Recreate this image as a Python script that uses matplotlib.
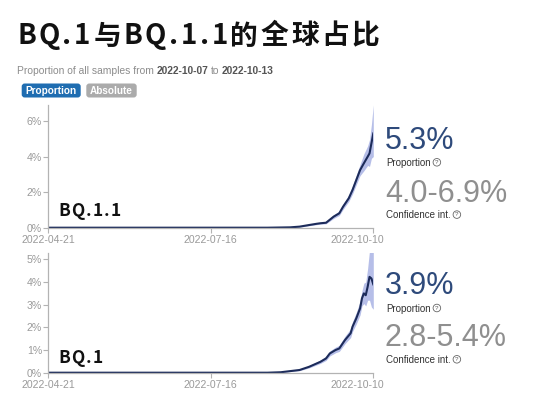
import matplotlib
matplotlib.use('Agg')
import matplotlib.pyplot as plt
import pandas as pd
from matplotlib.patches import FancyBboxPatch
from matplotlib.transforms import ScaledTranslation

# ---------------- data ----------------
dates_bq11 = ["2022-04-21", "2022-08-15", "2022-08-27", "2022-09-01", "2022-09-06",
              "2022-09-10", "2022-09-12", "2022-09-15", "2022-09-17", "2022-09-19",
              "2022-09-22", "2022-09-24", "2022-09-27", "2022-09-29", "2022-10-01",
              "2022-10-03", "2022-10-05", "2022-10-07", "2022-10-08", "2022-10-09",
              "2022-10-10"]
bq11 = [0, 0, 0.02, 0.06, 0.15, 0.22, 0.25, 0.28, 0.45, 0.62, 0.81, 1.18, 1.65,
        2.12, 2.68, 3.24, 3.62, 3.99, 4.18, 4.74, 5.3]
bq11_lo = [0, 0, 0.0, 0.03, 0.11, 0.17, 0.2, 0.22, 0.37, 0.52, 0.69, 1.03, 1.47,
           1.9, 2.42, 2.93, 3.2, 3.5, 3.45, 3.9, 4.0]
bq11_hi = [0, 0, 0.04, 0.09, 0.19, 0.27, 0.3, 0.34, 0.54, 0.73, 0.94, 1.34, 1.84,
           2.36, 2.95, 3.56, 4.15, 4.6, 4.95, 5.8, 6.9]

dates_bq1 = ["2022-04-21", "2022-08-15", "2022-08-22", "2022-09-01", "2022-09-06",
             "2022-09-12", "2022-09-15", "2022-09-17", "2022-09-20", "2022-09-22",
             "2022-09-25", "2022-09-28", "2022-09-29", "2022-10-01", "2022-10-03",
             "2022-10-04", "2022-10-05", "2022-10-06", "2022-10-07", "2022-10-08",
             "2022-10-09", "2022-10-10"]
bq1 = [0, 0, 0.02, 0.12, 0.26, 0.48, 0.63, 0.85, 1.0, 1.07, 1.44, 1.74, 2.03, 2.4,
       2.84, 3.28, 3.5, 3.42, 3.79, 4.23, 4.16, 3.9]
bq1_lo = [0, 0, 0.01, 0.09, 0.21, 0.41, 0.54, 0.74, 0.88, 0.94, 1.28, 1.55, 1.82,
          2.15, 2.55, 2.95, 3.05, 2.95, 3.2, 3.2, 2.9, 2.8]
bq1_hi = [0, 0, 0.03, 0.15, 0.31, 0.56, 0.73, 0.96, 1.13, 1.21, 1.61, 1.94, 2.25,
          2.66, 3.15, 3.62, 3.95, 4.0, 4.6, 5.4, 5.4, 5.4]

xtick_dates = ["2022-04-21", "2022-07-16", "2022-10-10"]
yticks_bq11 = [0, 2, 4, 6]
yticks_bq1 = [0, 1, 2, 3, 4, 5]
ymax_bq11 = 6.9
ymax_bq1 = 5.27

title = "BQ.1与BQ.1.1的全球占比"
stat_bq11 = ("5.3%", "4.0-6.9%")
stat_bq1 = ("3.9%", "2.8-5.4%")

# ---------------- figure ----------------
W, H = 559, 400
fig = plt.figure(figsize=(W / 100, H / 100), dpi=100)
fig.patch.set_facecolor('white')

SANS = ['Liberation Sans', 'DejaVu Sans']
CJK = ['Noto Sans CJK SC', 'DejaVu Sans']

LINE_C = '#1c2b5a'
BAND_C = '#a9b3e4'
TICK_C = '#b3b3b3'
TLAB_C = '#9a9a9a'


def add_ax(l, t, r, b):
    ax = fig.add_axes([l / W, 1 - b / H, (r - l) / W, (b - t) / H])
    ax.patch.set_alpha(0)
    return ax


def style_ax(ax, yt, ymax):
    ax.set_xlim(pd.Timestamp(xtick_dates[0]), pd.Timestamp(xtick_dates[-1]))
    ax.set_ylim(0, ymax)
    for s in ['top', 'right']:
        ax.spines[s].set_visible(False)
    for s in ['left', 'bottom']:
        ax.spines[s].set_color(TICK_C)
        ax.spines[s].set_linewidth(0.9)
    ax.set_xticks([pd.Timestamp(d) for d in xtick_dates])
    ax.set_xticklabels(xtick_dates, fontfamily=SANS)
    ax.set_yticks(yt)
    ax.set_yticklabels([f"{v}%" for v in yt], fontfamily=SANS)
    ax.tick_params(axis='both', colors=TICK_C, labelcolor=TLAB_C, labelsize=7.6,
                   length=3.5, width=0.8)
    ax.tick_params(axis='x', pad=1.5)
    ax.tick_params(axis='y', pad=1.0)
    lbls = ax.get_xticklabels()
    lbls[-1].set_transform(lbls[-1].get_transform() +
                           ScaledTranslation(-0.16, 0, fig.dpi_scale_trans))


ax1 = add_ax(48.3, 105, 373.3, 227.7)
d1 = pd.to_datetime(dates_bq11)
ax1.fill_between(d1, bq11_lo, bq11_hi, color=BAND_C, alpha=0.85, lw=0)
ax1.plot(d1, bq11, color=LINE_C, lw=1.5)
style_ax(ax1, yticks_bq11, ymax_bq11)

ax2 = add_ax(48.3, 253.3, 373.3, 372.7)
d2 = pd.to_datetime(dates_bq1)
ax2.fill_between(d2, bq1_lo, bq1_hi, color=BAND_C, alpha=0.85, lw=0)
ax2.plot(d2, bq1, color=LINE_C, lw=1.5)
style_ax(ax2, yticks_bq1, ymax_bq1)

# overlay axes in pixel coords for texts
bg = fig.add_axes([0, 0, 1, 1])
bg.set_axis_off()
bg.set_xlim(0, W)
bg.set_ylim(H, 0)
bg.set_zorder(10)


def chain(x, y, pieces):
    prev = None
    for s, gap, kw, dy in pieces:
        if prev is None:
            prev = bg.text(x, y, s, va='baseline', ha='left', **kw)
        else:
            prev = bg.annotate(s, xy=(1, y), xycoords=(prev, 'data'),
                               xytext=(gap * 0.72, dy * 0.72), textcoords='offset points',
                               va='baseline', ha='left', **kw)
    return prev


# title with letter spacing
tkw = dict(fontsize=20, fontweight='bold', color='#111111', fontfamily=CJK)
chain(17, 44.5, [(ch, 2.6, tkw, 0) for ch in title])

# subtitle
reg = dict(fontsize=7.4, color='#8c8c8c', fontfamily=SANS)
bold = dict(fontsize=7.4, color='#555555', fontweight='bold', fontfamily=SANS)
chain(17, 74, [("Proportion of all samples from", 0, reg, 0),
               ("2022-10-07", 2.4, bold, 0),
               ("to", 2.6, reg, 0),
               ("2022-10-13", 2.6, bold, 0)])

# buttons
for (x0, x1, label, fc) in [(21.7, 80.7, "Proportion", '#1f6db1'),
                            (86.3, 136.7, "Absolute", '#ababab')]:
    bg.add_patch(FancyBboxPatch((x0 + 3, 83.5 + 3), x1 - x0 - 6, 14 - 6,
                                boxstyle='round,pad=3', fc=fc, ec='none'))
    bg.text((x0 + x1) / 2, 91, label, ha='center', va='center', color='white',
            fontsize=7.2, fontweight='bold', fontfamily=SANS)

# panel labels
lkw = dict(fontsize=12.5, fontweight='bold', color='#111111', fontfamily=CJK)
chain(58, 216, [(ch, 1.3, lkw, 0) for ch in "BQ.1.1"])
chain(58, 363.3, [(ch, 1.3, lkw, 0) for ch in "BQ.1"])

# stats on the right
BIG = ['Liberation Sans', 'DejaVu Sans']
qkw = dict(fontsize=4.6, color='#555555', fontfamily=SANS,
           bbox=dict(boxstyle='circle,pad=0.2', fc='none', ec='#666666', lw=0.6))
skw = dict(fontsize=7.0, color='#333333', fontfamily=SANS)


def stats(y_big, y_lab, y_ci, y_cilab, vals):
    bg.text(385.0, y_big, vals[0], va='baseline', ha='left', fontsize=22,
            fontweight='normal', color='#2e4a7b', fontfamily=BIG)
    chain(386, y_lab, [("Proportion", 0, skw, 0), ("?", 4.5, qkw, 2.2)])
    bg.text(385.0, y_ci, vals[1], va='baseline', ha='left', fontsize=22,
            fontweight='normal', color='#8f8f8f', fontfamily=BIG)
    chain(386, y_cilab, [("Confidence int.", 0, skw, 0), ("?", 4.5, qkw, 2.2)])


stats(149, 166, 201.7, 218.3, stat_bq11)
stats(293.5, 311.7, 345.5, 363, stat_bq1)

fig.savefig('out.png', dpi=100, facecolor='white')
